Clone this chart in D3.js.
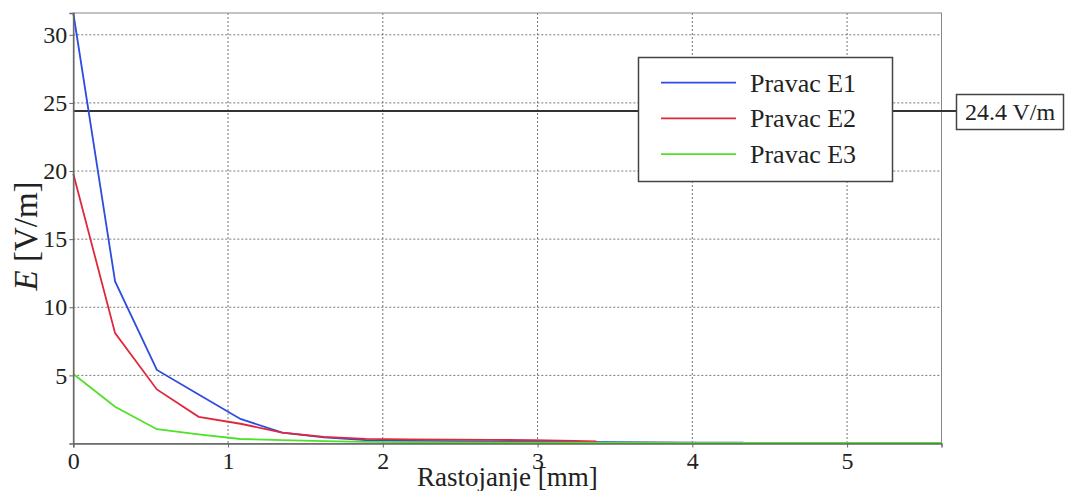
<!DOCTYPE html>
<html>
<head>
<meta charset="utf-8">
<script src="https://cdn.jsdelivr.net/npm/d3@7"></script>
<style>
  html, body { margin: 0; padding: 0; background: #fff; }
  svg { display: block; }
</style>
</head>
<body>
<svg id="chart" width="1065" height="491"></svg>
<script>
// ---- data ----
const seriesNames = ["Pravac E1", "Pravac E2", "Pravac E3"];
const xE1 = [0, 0.27, 0.54, 0.81, 1.08, 1.35, 1.62, 1.89, 2.16, 2.43, 2.70, 2.97, 3.24, 3.51, 3.78, 4.05, 4.33];
const yE1 = [31.6, 11.9, 5.4, 3.6, 1.8, 0.8, 0.45, 0.25, 0.2, 0.18, 0.16, 0.15, 0.12, 0.1, 0.08, 0.07, 0.06];
const xE2 = [0, 0.27, 0.54, 0.81, 1.08, 1.35, 1.62, 1.89, 2.16, 2.43, 2.70, 2.97, 3.24, 3.38];
const yE2 = [19.8, 8.1, 3.97, 1.96, 1.45, 0.8, 0.48, 0.34, 0.3, 0.28, 0.26, 0.25, 0.2, 0.15];
const xE3 = [0, 0.27, 0.54, 0.81, 1.08, 1.35, 1.62, 1.89, 2.16, 2.43, 3.0, 4.0, 5.0, 5.61];
const yE3 = [5.1, 2.7, 1.05, 0.67, 0.33, 0.25, 0.18, 0.12, 0.1, 0.08, 0.06, 0.05, 0.05, 0.05];
const xTicks = [0, 1, 2, 3, 4, 5];
const yTicks = [5, 10, 15, 20, 25, 30];
const limitValue = 24.4;
const limitLabel = "24.4 V/m";
const xLabel = "Rastojanje [mm]";

// ---- layout ----
const FONT = '"Liberation Serif"';
const colors = ["#2d4ce0", "#e0283c", "#4fe02a"];
const svg = d3.select("#chart");
const L = 73.3, R = 941.5, T = 13, B = 443.5;
const x = d3.scaleLinear().domain([0, 5.61]).range([L, R]);
const y = d3.scaleLinear().domain([0, 31.6]).range([B, T]);

function txt(sel, size) {
  return sel.style("font-family", FONT).style("font-size", size + "px").style("fill", "#222");
}

// grid
const grid = svg.append("g");
grid.selectAll("line.v").data(xTicks.filter(d => d > 0)).join("line")
  .attr("x1", d => x(d)).attr("x2", d => x(d)).attr("y1", T).attr("y2", B)
  .attr("stroke", "#777").attr("stroke-width", 1).attr("stroke-dasharray", "2,2");
grid.selectAll("line.h").data(yTicks).join("line")
  .attr("x1", L).attr("x2", R).attr("y1", d => y(d)).attr("y2", d => y(d))
  .attr("stroke", "#777").attr("stroke-width", 1).attr("stroke-dasharray", "2,2");

// frame
svg.append("rect").attr("x", L).attr("y", T).attr("width", R - L).attr("height", B - T)
  .attr("fill", "none").attr("stroke", "#888").attr("stroke-width", 1);

// limit line
svg.append("line").attr("x1", L).attr("x2", 956).attr("y1", y(limitValue)).attr("y2", y(limitValue))
  .attr("stroke", "#333").attr("stroke-width", 2);

// series
const xsAll = [xE1, xE2, xE3], ysAll = [yE1, yE2, yE3];
const line = d3.line().x(d => x(d[0])).y(d => y(d[1]));
xsAll.forEach((xs, i) => {
  svg.append("path").datum(xs.map((v, j) => [v, ysAll[i][j]]))
    .attr("d", line).attr("fill", "none").attr("stroke", colors[i]).attr("stroke-width", 1.8);
});

// axes
const xAxis = svg.append("g").attr("transform", `translate(0,${B})`)
  .call(d3.axisBottom(x).tickValues(xTicks).tickSize(4).tickPadding(4).tickFormat(d3.format("d")));
const yAxis = svg.append("g").attr("transform", `translate(${L},0)`)
  .call(d3.axisLeft(y).tickValues(yTicks).tickSize(4).tickPadding(2).tickFormat(d3.format("d")));
[xAxis, yAxis].forEach(a => {
  a.select(".domain").attr("stroke", "#666").attr("stroke-width", 1.5);
  a.selectAll(".tick line").attr("stroke", "#666");
  txt(a.selectAll("text"), 24);
});
xAxis.selectAll("text").attr("dy", "0.74em");

// axis labels
txt(svg.append("text").attr("x", (L + R) / 2).attr("y", 486).attr("text-anchor", "middle"), 27).text(xLabel);
const yl = txt(svg.append("text").attr("transform", "translate(37,236) rotate(-90)")
  .attr("text-anchor", "middle"), 33);
yl.append("tspan").style("font-style", "italic").text("E");
yl.append("tspan").text(" [V/m]");

// legend
const lg = svg.append("g");
lg.append("rect").attr("x", 638.5).attr("y", 57.5).attr("width", 254).attr("height", 124)
  .attr("fill", "#fff").attr("stroke", "#444").attr("stroke-width", 1.5);
seriesNames.forEach((name, i) => {
  const yy = 82.7 + i * 35.7;
  lg.append("line").attr("x1", 661).attr("x2", 736).attr("y1", yy).attr("y2", yy)
    .attr("stroke", colors[i]).attr("stroke-width", 1.8);
  txt(lg.append("text").attr("x", 750).attr("y", yy + 9), 26).text(name);
});

// limit label box
svg.append("rect").attr("x", 956.5).attr("y", 94.5).attr("width", 107).attr("height", 35)
  .attr("fill", "#fff").attr("stroke", "#444").attr("stroke-width", 1.5);
txt(svg.append("text").attr("x", 1010).attr("y", 120).attr("text-anchor", "middle"), 24).text(limitLabel);
</script>
</body>
</html>
